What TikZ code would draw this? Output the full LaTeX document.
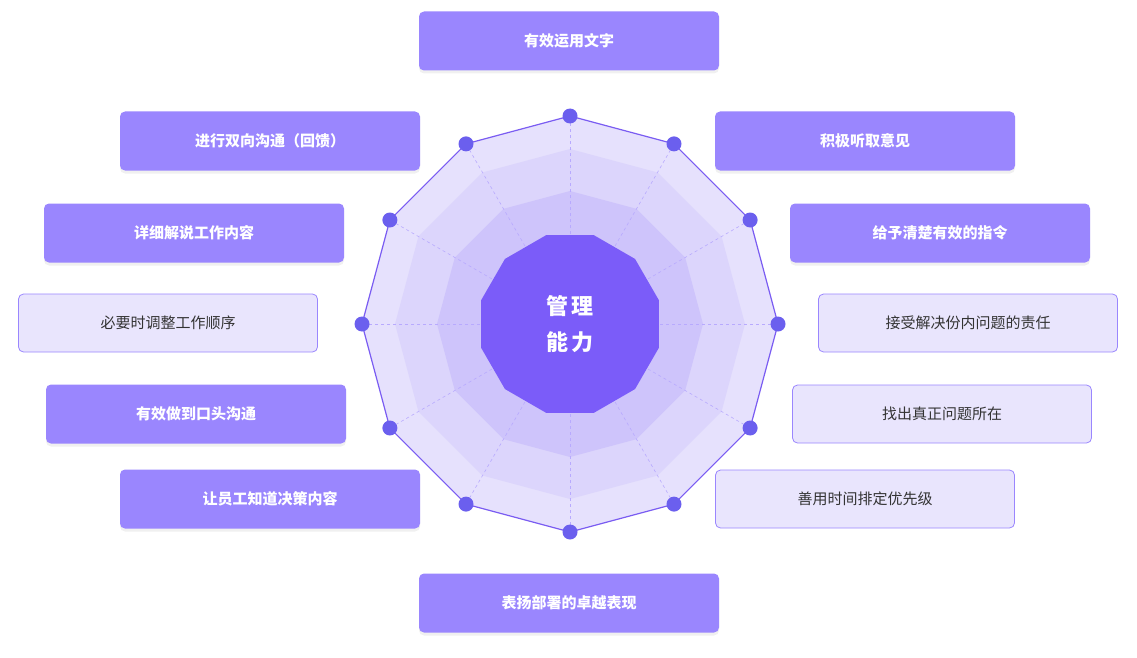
\documentclass[tikz,border=0pt]{standalone}
\usepackage{fontspec}
\newfontfamily\cjk{Noto Sans CJK SC}
\usetikzlibrary{shadows,calc}
\definecolor{boxfill}{HTML}{9A86FE}
\definecolor{lightfill}{HTML}{E9E5FD}
\definecolor{ringA}{HTML}{E6E1FD}
\definecolor{ringB}{HTML}{DCD5FC}
\definecolor{ringC}{HTML}{CEC4FB}
\definecolor{core}{HTML}{7B5CF9}
\definecolor{edge}{HTML}{7A5CF2}
\definecolor{dotc}{HTML}{6B5FEE}
\definecolor{txt}{HTML}{333333}
\tikzset{
  fbox/.style={rectangle,rounded corners=5pt,minimum width=300pt,minimum height=59pt,fill=boxfill,text=white,font=\cjk\bfseries\fontsize{15}{18}\selectfont,drop shadow={opacity=0.12,shadow xshift=0pt,shadow yshift=-3pt}},
  obox/.style={rectangle,rounded corners=5pt,minimum width=299pt,minimum height=58pt,fill=lightfill,draw=boxfill,line width=0.8pt,text=txt,font=\cjk\fontsize{15}{18}\selectfont},
  vdot/.style={circle,fill=dotc,minimum size=15pt,inner sep=0pt},
}
\begin{document}
\begin{tikzpicture}[x=1pt,y=-1pt]
\useasboundingbox (0,0) rectangle (1137,658);
\coordinate (c) at (570,324);
\foreach \r/\col in {208/ringA,175/ringB,133/ringC}{
  \fill[\col] ($(c)+(90:\r)$) \foreach \a in {60,30,...,-240}{ -- ($(c)+(\a:\r)$)} -- cycle;
}
\draw[edge,line width=1.2pt] ($(c)+(90:208)$) \foreach \a in {60,30,...,-240}{ -- ($(c)+(\a:208)$)} -- cycle;
\foreach \a in {90,60,...,-240}{ \draw[dashed,boxfill!70,line width=0.6pt] (c) -- ($(c)+(\a:206)$); }
\fill[core] ($(c)+(75:92)$) \foreach \a in {45,15,...,-255}{ -- ($(c)+(\a:92)$)} -- cycle;
\node[text=white,font=\cjk\bfseries\fontsize{22}{36}\selectfont,align=center] (ct) at (c) {管\,理\\能\,力};
\foreach \a [count=\i] in {90,60,...,-240}{ \node[vdot] (v\i) at ($(c)+(\a:208)$) {}; }
\node[fbox] (b1) at (569,41) {有效运用文字};
\node[fbox] (b2) at (270,141) {进行双向沟通（回馈）};
\node[fbox] (b3) at (865,141) {积极听取意见};
\node[fbox] (b4) at (194,233) {详细解说工作内容};
\node[fbox] (b5) at (940,233) {给予清楚有效的指令};
\node[obox] (b6) at (168,323) {必要时调整工作顺序};
\node[obox] (b7) at (968,323) {接受解决份内问题的责任};
\node[fbox] (b8) at (196,414) {有效做到口头沟通};
\node[obox] (b9) at (942,414) {找出真正问题所在};
\node[fbox] (b10) at (270,499) {让员工知道决策内容};
\node[obox] (b11) at (865,499) {善用时间排定优先级};
\node[fbox] (b12) at (569,603) {表扬部署的卓越表现};
\end{tikzpicture}
\end{document}
